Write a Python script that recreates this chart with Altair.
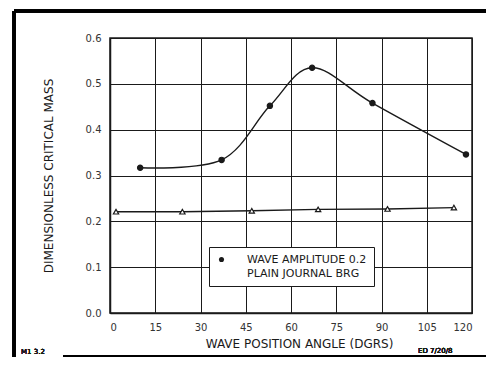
import altair as alt
import pandas as pd

# Wave amplitude 0.2 series
wave_x = [10, 37, 53, 67, 87, 118]
wave_y = [0.317, 0.334, 0.452, 0.535, 0.458, 0.346]
# Plain journal bearing series
plain_x = [2, 24, 47, 69, 92, 114]
plain_y = [0.221, 0.221, 0.223, 0.226, 0.227, 0.230]

series_names = ["WAVE AMPLITUDE 0.2", "PLAIN JOURNAL BRG"]
x_ticks = [0, 15, 30, 45, 60, 75, 90, 105, 120]
y_ticks = [0.0, 0.1, 0.2, 0.3, 0.4, 0.5, 0.6]

FONT = "DejaVu Sans"
INK = "#1a1a1a"

wave = pd.DataFrame({"x": wave_x, "y": wave_y, "s": series_names[0]})
plain = pd.DataFrame({"x": plain_x, "y": plain_y, "s": series_names[1]})
both = pd.concat([wave, plain], ignore_index=True)

xs = alt.Scale(domain=[0, 120], nice=False, zero=False)
ys = alt.Scale(domain=[0, 0.6], nice=False, zero=False)

X = alt.X("x:Q", scale=xs, axis=alt.Axis(values=x_ticks, title="WAVE POSITION ANGLE (DGRS)",
                                         grid=True, format="d", titlePadding=6, titleX=189))
Y = alt.Y("y:Q", scale=ys, axis=alt.Axis(values=y_ticks, title="DIMENSIONLESS CRITICAL MASS",
                                         grid=True, format=".1f", titlePadding=30))

wave_line = alt.Chart(wave).mark_line(interpolate="cardinal", tension=0, color=INK,
                                      strokeWidth=1.4).encode(x=X, y=Y)
plain_line = alt.Chart(plain).mark_line(color=INK, strokeWidth=1.4).encode(x=X, y=Y)

points = alt.Chart(both).mark_point(size=28, strokeWidth=1.2, opacity=1).encode(
    x=X, y=Y,
    shape=alt.Shape("s:N", scale=alt.Scale(domain=series_names, range=["circle", "triangle-up"]),
                    legend=alt.Legend(title=None, orient="none", legendX=99, legendY=209,
                                      strokeColor=INK, fillColor="white", padding=7,
                                      labelFont=FONT, labelFontSize=11, labelColor=INK,
                                      symbolStrokeColor=INK, labelOffset=20, rowPadding=1,
                                      symbolSize=26, cornerRadius=0)),
    fill=alt.Fill("s:N", scale=alt.Scale(domain=series_names, range=[INK, "white"]),
                  legend=alt.Legend(title=None, orient="none", legendX=99, legendY=209)),
    stroke=alt.value(INK),
)

# decorative page frame of the scanned figure
frame_left = alt.Chart(wave).mark_rule(color="black", strokeWidth=3).encode(
    x=alt.value(-96), y=alt.value(-27), y2=alt.value(319))
frame_top = alt.Chart(wave).mark_rule(color="black", strokeWidth=3).encode(
    x=alt.value(-96), x2=alt.value(376), y=alt.value(-27))
frame_bottom = alt.Chart(wave).mark_rule(color="black", strokeWidth=2).encode(
    x=alt.value(-47), x2=alt.value(376), y=alt.value(318))
note_left = alt.Chart(wave).mark_text(font=FONT, fontSize=7, color=INK, align="left").encode(
    x=alt.value(-89), y=alt.value(314), text=alt.value("M1 3.2"))
note_right = alt.Chart(wave).mark_text(font=FONT, fontSize=7, color=INK, align="left").encode(
    x=alt.value(308), y=alt.value(313), text=alt.value("ED 7/20/8"))

chart = alt.layer(frame_left, frame_top, frame_bottom, note_left, note_right,
                  plain_line, wave_line, points).properties(
    width=362, height=275,
    autosize=alt.AutoSizeParams(type="none"),
    padding={"left": 102, "top": 30, "right": 14, "bottom": 45},
    background="white",
).configure_view(stroke=INK, strokeWidth=1.5).configure_axis(
    gridColor=INK, gridWidth=1, gridOpacity=1,
    domainColor=INK, domainWidth=1.5, ticks=False,
    labelFont=FONT, labelFontSize=10, labelColor="#333", labelPadding=9,
    titleFont=FONT, titleFontSize=12, titleFontWeight="normal", titleColor=INK,
)

chart.save("out.html", embed_options={"renderer": "svg", "actions": False})
